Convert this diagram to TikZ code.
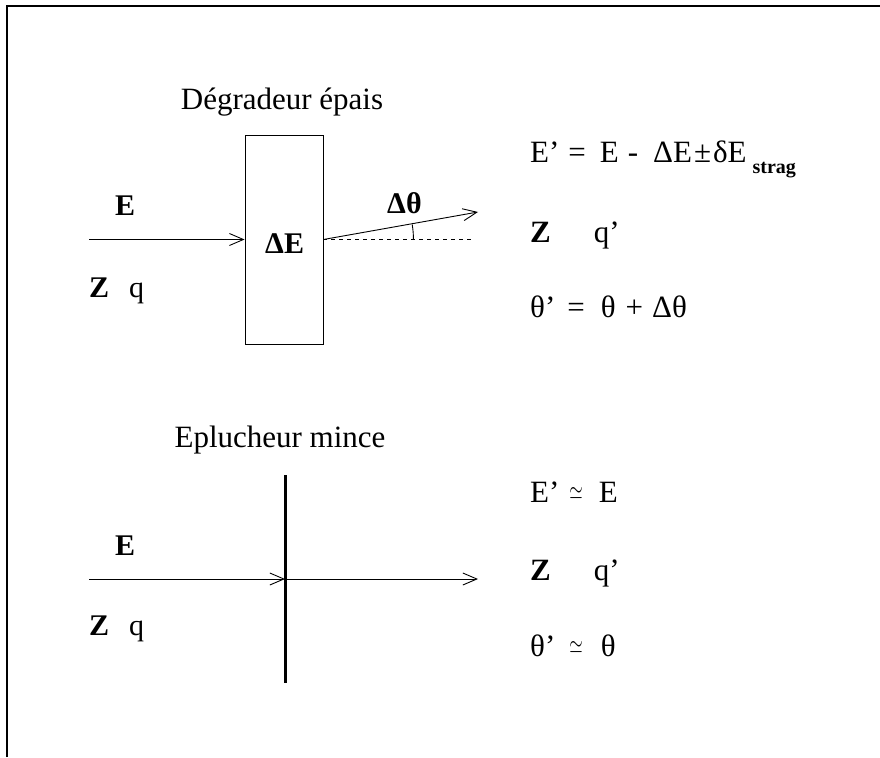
\documentclass[tikz,border=0pt]{standalone}
\usepackage{amsmath,amssymb}
\usepackage{graphicx}
\usepackage{fontspec}
\setmainfont{Liberation Serif}
\usepackage{tikz}
\usetikzlibrary{arrows.meta,calc,positioning}
\tikzset{ray/.style={line width=.9pt,-{Straight Barb[length=14pt,width=12pt,line width=.9pt]}},
  frameline/.style={line width=1.4pt},
  guideline/.style={line width=.9pt,dash pattern=on 4pt off 4pt},
  title/.style={font=\fontsize{31}{36}\selectfont,anchor=base,inner sep=0pt},
  lbl/.style={font=\fontsize{30}{34}\selectfont\bfseries,anchor=base west,inner sep=0pt},
  eqn/.style={font=\fontsize{31}{36}\selectfont,anchor=base west,inner sep=0pt},
  thickbox/.style={draw,line width=.9pt,minimum width=78pt,minimum height=209pt,inner sep=0pt}}
\newcommand{\strag}{\raisebox{-11pt}{\fontsize{20}{22}\selectfont\bfseries strag}}
\newcommand{\nearlyeq}{\raisebox{3pt}{\scalebox{1}[1.5]{\fontsize{18}{20}\selectfont$\simeq$}}}

\begin{document}
\begin{tikzpicture}[x=1pt,y=-1pt]
\useasboundingbox (0,0) rectangle (880,757);
\draw[frameline] (7,757) -- (7,6) -- (880,6);
% degradeur epais
\node[title] (titleA) at (282,110) {Dégradeur épais};
\node[thickbox] (thick) at (284,239.5) {};
\node[lbl] (dE) at (265,253) {ΔE};
\coordinate (inA) at (89,239.5);
\coordinate (outA) at (478,212);
\coordinate (dashA) at (473,239.5);
\draw[ray] (inA) -- (thick.west);
\draw[ray] (thick.east) -- (outA);
\draw[guideline] (thick.east) -- (dashA);
\draw[line width=.9pt] ($(thick.east)+(90,0)$) arc[start angle=0,end angle=-9.6,radius=90];
\node[lbl] (EA) at (115,215) {E};
\node[lbl] (ZA) at (89,297) {Z\hspace{20pt}\mdseries q};
\node[lbl] (dth) at (387,213) {Δθ};
\node[eqn] (eqA1) at (530,162) {E’\hspace{9pt}=\hspace{14pt}E\hspace{9pt}-\hspace{15pt}ΔE\hspace{2pt}±\hspace{2pt}δE\hspace{6pt}\strag};
\node[eqn] (eqA2) at (530,242) {\textbf{Z}\hspace{43pt}q’};
\node[eqn] (eqA3) at (530,317) {θ’\hspace{12pt}=\hspace{16pt}θ\hspace{10pt}+\hspace{9pt}Δθ};
% eplucheur mince
\node[title] (titleB) at (280,447) {Eplucheur mince};
\coordinate (stripTop) at (285,475);
\coordinate (stripBot) at (285,683);
\coordinate (hit) at (285,579);
\coordinate (inB) at (89,579);
\coordinate (outB) at (478,579);
\draw[line width=3pt] (stripTop) -- (stripBot);
\draw[ray] (inB) -- (hit);
\draw[ray] (hit) -- (outB);
\node[lbl] (EB) at (115,555) {E};
\node[lbl] (ZB) at (89,635) {Z\hspace{20pt}\mdseries q};
\node[eqn] (eqB1) at (530,502) {E’\hspace{10pt}\nearlyeq\hspace{16pt}E};
\node[eqn] (eqB2) at (530,580) {\textbf{Z}\hspace{43pt}q’};
\node[eqn] (eqB3) at (530,656) {θ’\hspace{14pt}\nearlyeq\hspace{18pt}θ};
\end{tikzpicture}
\end{document}
